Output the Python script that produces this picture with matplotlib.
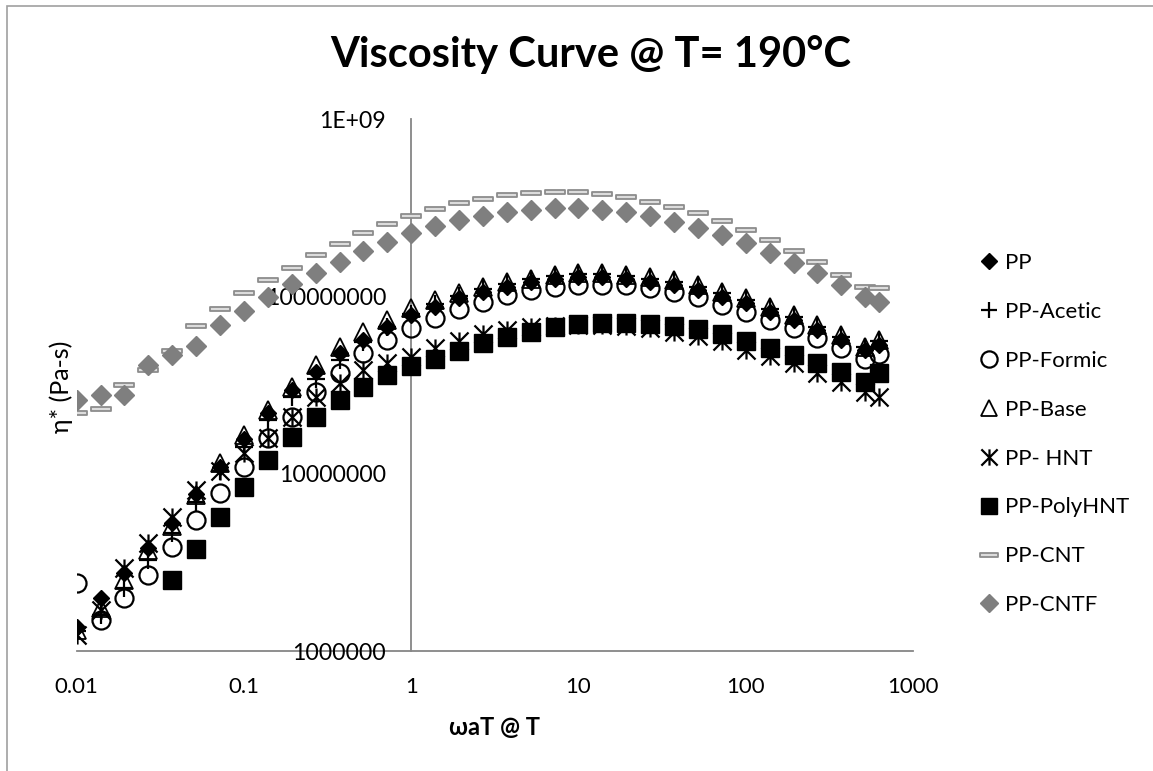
import matplotlib
matplotlib.use("Agg")
import matplotlib.pyplot as plt
from matplotlib.path import Path
from matplotlib.patches import Rectangle
from matplotlib.ticker import FixedLocator, FixedFormatter, NullLocator

plt.rcParams['font.family'] = ['Lato', 'DejaVu Sans']

# ---------------- data ----------------
freq = [0.01, 0.0139, 0.0193, 0.0268, 0.0373, 0.0518, 0.0720, 0.1, 0.139, 0.193,
        0.268, 0.373, 0.518, 0.720, 1.0, 1.39, 1.93, 2.68, 3.73, 5.18,
        7.20, 10.0, 13.9, 19.3, 26.8, 37.3, 51.8, 72.0, 100, 139,
        193, 268, 373, 518, 628]
freq_poly = freq[4:]

pp = [1.37e6, 1.98e6, 2.74e6, 3.79e6, 5.25e6, 7.67e6, 1.09e7, 1.56e7, 2.19e7, 2.96e7,
      3.76e7, 4.77e7, 5.67e7, 6.75e7, 7.85e7, 8.74e7, 9.75e7, 1.06e8, 1.13e8, 1.21e8,
      1.26e8, 1.29e8, 1.29e8, 1.26e8, 1.21e8, 1.16e8, 1.09e8, 9.96e7, 9.14e7, 8.19e7,
      7.36e7, 6.46e7, 5.67e7, 4.98e7, 5.32e7]
acetic = [1.30e6, 1.60e6, 2.27e6, 3.26e6, 4.62e6, 6.96e6, 1.03e7, 1.42e7, 2.01e7, 2.72e7,
          3.40e7, 4.40e7, 5.50e7, 6.70e7, 8.00e7, 9.00e7, 1.00e8, 1.10e8, 1.17e8, 1.25e8,
          1.31e8, 1.34e8, 1.34e8, 1.31e8, 1.26e8, 1.20e8, 1.13e8, 1.04e8, 9.50e7, 8.50e7,
          7.60e7, 6.70e7, 5.90e7, 5.20e7, 5.60e7]
formic = [2.41e6, 1.50e6, 1.98e6, 2.68e6, 3.87e6, 5.48e6, 7.75e6, 1.09e7, 1.58e7, 2.09e7,
          2.90e7, 3.68e7, 4.77e7, 5.67e7, 6.60e7, 7.52e7, 8.45e7, 9.34e7, 1.02e8, 1.09e8,
          1.13e8, 1.16e8, 1.16e8, 1.16e8, 1.11e8, 1.06e8, 9.96e7, 8.94e7, 8.19e7, 7.36e7,
          6.60e7, 5.80e7, 5.10e7, 4.42e7, 4.70e7]
base = [1.32e6, 1.74e6, 2.50e6, 3.70e6, 5.10e6, 7.60e6, 1.15e7, 1.65e7, 2.29e7, 3.10e7,
        4.10e7, 5.20e7, 6.30e7, 7.36e7, 8.57e7, 9.55e7, 1.04e8, 1.13e8, 1.21e8, 1.26e8,
        1.32e8, 1.35e8, 1.35e8, 1.32e8, 1.29e8, 1.24e8, 1.16e8, 1.06e8, 9.75e7, 8.74e7,
        7.85e7, 6.90e7, 6.06e7, 5.20e7, 5.67e7]
hnt = [1.23e6, 1.70e6, 2.92e6, 4.05e6, 5.71e6, 8.10e6, 1.03e7, 1.30e7, 1.58e7, 2.09e7,
       2.72e7, 3.24e7, 3.85e7, 4.19e7, 4.57e7, 5.10e7, 5.60e7, 6.10e7, 6.50e7, 6.70e7,
       6.80e7, 6.90e7, 6.90e7, 6.80e7, 6.60e7, 6.30e7, 6.00e7, 5.60e7, 5.00e7, 4.60e7,
       4.19e7, 3.68e7, 3.30e7, 2.90e7, 2.72e7]
polyhnt = [2.50e6, 3.74e6, 5.71e6, 8.44e6, 1.19e7, 1.62e7, 2.10e7, 2.60e7, 3.09e7, 3.60e7,
           4.05e7, 4.42e7, 4.92e7, 5.48e7, 5.92e7, 6.31e7, 6.68e7, 6.98e7, 7.10e7, 7.10e7,
           7.00e7, 6.80e7, 6.52e7, 6.14e7, 5.62e7, 5.10e7, 4.67e7, 4.19e7, 3.73e7, 3.30e7,
           3.68e7]
cnt = [2.19e7, 2.31e7, 3.16e7, 3.85e7, 4.93e7, 6.82e7, 8.45e7, 1.04e8, 1.24e8, 1.45e8,
       1.70e8, 1.97e8, 2.27e8, 2.56e8, 2.84e8, 3.09e8, 3.35e8, 3.56e8, 3.72e8, 3.81e8,
       3.86e8, 3.86e8, 3.76e8, 3.61e8, 3.42e8, 3.19e8, 2.94e8, 2.67e8, 2.36e8, 2.08e8,
       1.81e8, 1.57e8, 1.32e8, 1.13e8, 1.11e8]
cntf = [2.60e7, 2.78e7, 2.78e7, 4.10e7, 4.67e7, 5.25e7, 6.89e7, 8.30e7, 9.96e7, 1.18e8,
        1.36e8, 1.57e8, 1.79e8, 2.03e8, 2.29e8, 2.49e8, 2.69e8, 2.85e8, 3.00e8, 3.07e8,
        3.14e8, 3.14e8, 3.07e8, 3.00e8, 2.84e8, 2.64e8, 2.42e8, 2.22e8, 1.99e8, 1.76e8,
        1.55e8, 1.36e8, 1.16e8, 9.96e7, 9.34e7]

series_labels = ["PP", "PP-Acetic", "PP-Formic", "PP-Base", "PP- HNT",
                 "PP-PolyHNT", "PP-CNT", "PP-CNTF"]
x_ticks = [0.01, 0.1, 1, 10, 100, 1000]
x_tick_labels = ["0.01", "0.1", "1", "10", "100", "1000"]
y_ticks = [1e6, 1e7, 1e8, 1e9]
y_tick_labels = ["1000000", "10000000", "100000000", "1E+09"]

# ---------------- custom markers ----------------
star_marker = Path([(-1, -1), (1, 1), (-1, 1), (1, -1), (0, -1), (0, 1)],
                   [Path.MOVETO, Path.LINETO, Path.MOVETO, Path.LINETO,
                    Path.MOVETO, Path.LINETO])
bar_marker = Path([(-1, -0.22), (1, -0.22), (1, 0.22), (-1, 0.22), (-1, -0.22)],
                  [Path.MOVETO, Path.LINETO, Path.LINETO, Path.LINETO, Path.CLOSEPOLY])

W, H = 1153, 771
fig = plt.figure(figsize=(W / 100, H / 100), dpi=100)
x0, x1 = 76.7, 913.0
y_top, y_bot = 119.0, 651.0
ax = fig.add_axes([x0 / W, 1 - y_bot / H, (x1 - x0) / W, (y_bot - y_top) / H])

styles = [
    dict(marker='D', ms=8.6, color='black', mec='black', mfc='black', mew=1.0),
    dict(marker='+', ms=13, color='black', mew=1.6),
    dict(marker='o', ms=13, color='black', mfc='none', mec='black', mew=1.6),
    dict(marker='^', ms=13, color='black', mfc='none', mec='black', mew=1.3),
    dict(marker=star_marker, ms=13, color='black', mfc='none', mec='black', mew=1.6),
    dict(marker='s', ms=13.5, color='black', mfc='black', mec='black', mew=1.0),
    dict(marker=bar_marker, ms=14, color='#8c8c8c', mfc='#dcdcdc', mec='#8c8c8c', mew=1.3),
    dict(marker='D', ms=10, color='#7f7f7f', mfc='#7f7f7f', mec='#7f7f7f', mew=1.0),
]
data = [(freq, pp), (freq, acetic), (freq, formic), (freq, base), (freq, hnt),
        (freq_poly, polyhnt), (freq, cnt), (freq, cntf)]

handles = []
for (xs, ys), lab, st in zip(data, series_labels, styles):
    h, = ax.plot(xs, ys, linestyle='none', label=lab, **st)
    handles.append(h)

ax.set_xscale('log')
ax.set_yscale('log')
ax.set_xlim(0.01, 1000)
ax.set_ylim(1e6, 1e9)

ax.xaxis.set_major_locator(FixedLocator(x_ticks))
ax.xaxis.set_major_formatter(FixedFormatter(x_tick_labels))
ax.yaxis.set_major_locator(FixedLocator(y_ticks))
ax.yaxis.set_major_formatter(FixedFormatter(y_tick_labels))
ax.xaxis.set_minor_locator(NullLocator())
ax.yaxis.set_minor_locator(NullLocator())

for s in ['top', 'right']:
    ax.spines[s].set_visible(False)
ax.spines['left'].set_position(('data', 1))
ax.spines['left'].set_color('#868686')
ax.spines['bottom'].set_color('#868686')
ax.spines['left'].set_linewidth(1.3)
ax.spines['bottom'].set_linewidth(1.3)
ax.spines['left'].set_zorder(0.5)
ax.spines['bottom'].set_zorder(0.5)
ax.tick_params(axis='x', length=0, pad=19, labelsize=16)
ax.tick_params(axis='y', length=0, pad=18, labelsize=16.6)
ax.set_facecolor('none')

ax.set_xlabel('ωaT @ T', fontsize=17, fontweight='bold')
ax.xaxis.set_label_coords(0.5, -(727 - y_bot) / (y_bot - y_top))
ax.xaxis.label.set_va('center')
ax.set_ylabel('η* (Pa-s)', fontsize=18)
ax.yaxis.set_label_coords((61 - x0) / (x1 - x0), (y_bot - 387) / (y_bot - y_top))
ax.yaxis.label.set_va('center')

fig.text(591 / W, 1 - 55 / H, 'Viscosity Curve @ T= 190°C', fontsize=30,
         fontweight='bold', ha='center', va='center')

fig.legend(handles=handles, labels=series_labels, loc='upper left',
           bbox_to_anchor=(980.5 / W, 1 - 253 / H), frameon=False, fontsize=16,
           handlelength=0.8, handletextpad=0.3, labelspacing=1.3, borderpad=0,
           borderaxespad=0, markerscale=0.9)

fig.patches.append(Rectangle((7 / W, -0.1), 1.2, 1.1 - 6.5 / H, transform=fig.transFigure,
                             fill=False, edgecolor='#a0a0a0', linewidth=1.2))

fig.savefig('out.png', dpi=100)
